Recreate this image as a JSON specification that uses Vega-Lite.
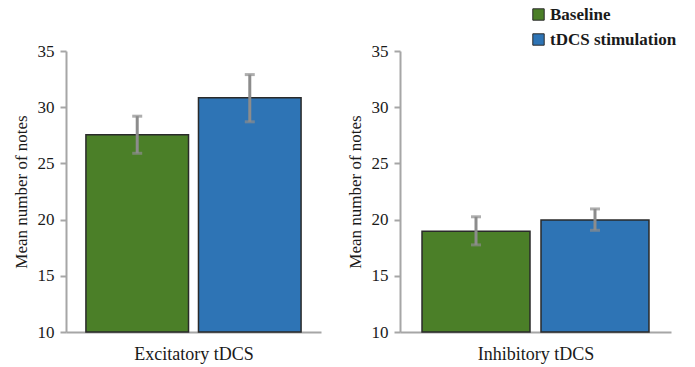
{
  "$schema": "https://vega.github.io/schema/vega-lite/v6.json",
  "background": "white",
  "padding": {"left": 12, "top": 6, "right": 5, "bottom": 5},
  "spacing": 25,
  "config": {
    "view": {"stroke": null},
    "font": "Liberation Serif",
    "axis": {"labelFont": "Liberation Serif", "titleFont": "Liberation Serif", "labelColor": "#1a1a1a", "titleColor": "#1a1a1a", "titleFontWeight": "normal", "grid": false}
  },
  "datasets": {
    "d": [
      {"panel": "Excitatory tDCS", "condition": "Baseline", "mean": 27.55, "lo": 25.9, "hi": 29.2},
      {"panel": "Excitatory tDCS", "condition": "tDCS stimulation", "mean": 30.85, "lo": 28.7, "hi": 32.9},
      {"panel": "Inhibitory tDCS", "condition": "Baseline", "mean": 18.97, "lo": 17.75, "hi": 20.25},
      {"panel": "Inhibitory tDCS", "condition": "tDCS stimulation", "mean": 19.97, "lo": 19.05, "hi": 20.95}
    ]
  },
  "resolve": {"legend": {"color": "independent"}},
  "hconcat": [
    {
      "width": 255,
      "height": 281,
      "data": {"name": "d"},
      "transform": [{"filter": "datum.panel == 'Excitatory tDCS'"}],
      "encoding": {
        "x": {"field": "condition", "type": "nominal", "sort": ["Baseline", "tDCS stimulation"],
          "scale": {"paddingInner": 0.0885, "paddingOuter": 0.177},
          "axis": {"title": "Excitatory tDCS", "labels": false, "ticks": false, "domainColor": "#a6a6a6", "domainWidth": 2, "titleFont": "Liberation Serif", "titleFontSize": 18, "titlePadding": 13}}
      },
      "layer": [
        {
          "mark": {"type": "bar", "stroke": "#2a2a2a", "strokeWidth": 1.5},
          "encoding": {
            "y": {"field": "mean", "type": "quantitative", "scale": {"domain": [10, 35], "zero": false, "nice": false},
              "axis": {"title": "Mean number of notes", "values": [10, 15, 20, 25, 30, 35], "domainColor": "#a6a6a6", "domainWidth": 2, "tickColor": "#a6a6a6", "tickWidth": 2, "tickSize": 6, "labelFont": "Liberation Serif", "labelFontSize": 17, "labelPadding": 6, "titleFont": "Liberation Serif", "titleFontSize": 17, "titlePadding": 7}},
            "y2": {"datum": 10},
            "color": {"field": "condition", "type": "nominal", "scale": {"domain": ["Baseline", "tDCS stimulation"], "range": ["#4b7f28", "#2e74b5"]}, "legend": null}
          }
        },
        {
          "mark": {"type": "errorbar", "ticks": {"size": 10, "thickness": 3, "color": "#8c8c8c"}, "rule": {"strokeWidth": 3, "color": "#8c8c8c"}},
          "encoding": {
            "y": {"field": "lo", "type": "quantitative", "title": "Mean number of notes"},
            "y2": {"field": "hi"}
          }
        }
      ]
    },
    {
      "width": 271,
      "height": 281,
      "data": {"name": "d"},
      "transform": [{"filter": "datum.panel == 'Inhibitory tDCS'"}],
      "encoding": {
        "x": {"field": "condition", "type": "nominal", "sort": ["Baseline", "tDCS stimulation"],
          "scale": {"paddingInner": 0.0924, "paddingOuter": 0.185},
          "axis": {"title": "Inhibitory tDCS", "labels": false, "ticks": false, "domainColor": "#a6a6a6", "domainWidth": 2, "titleFont": "Liberation Serif", "titleFontSize": 18, "titlePadding": 13}}
      },
      "layer": [
        {
          "mark": {"type": "bar", "stroke": "#2a2a2a", "strokeWidth": 1.5},
          "encoding": {
            "y": {"field": "mean", "type": "quantitative", "scale": {"domain": [10, 35], "zero": false, "nice": false},
              "axis": {"title": "Mean number of notes", "values": [10, 15, 20, 25, 30, 35], "domainColor": "#a6a6a6", "domainWidth": 2, "tickColor": "#a6a6a6", "tickWidth": 2, "tickSize": 6, "labelFont": "Liberation Serif", "labelFontSize": 17, "labelPadding": 6, "titleFont": "Liberation Serif", "titleFontSize": 17, "titlePadding": 7}},
            "y2": {"datum": 10},
            "color": {"field": "condition", "type": "nominal", "scale": {"domain": ["Baseline", "tDCS stimulation"], "range": ["#4b7f28", "#2e74b5"]},
              "legend": {"title": null, "orient": "none", "legendX": 130, "legendY": -45, "symbolType": "square", "symbolSize": 130, "symbolStrokeColor": "#2a2a2a", "symbolStrokeWidth": 1, "labelFont": "Liberation Serif", "labelFontWeight": "bold", "labelFontSize": 17, "labelColor": "#1a1a1a", "labelOffset": 3, "rowPadding": 7}}
          }
        },
        {
          "mark": {"type": "errorbar", "ticks": {"size": 10, "thickness": 3, "color": "#8c8c8c"}, "rule": {"strokeWidth": 3, "color": "#8c8c8c"}},
          "encoding": {
            "y": {"field": "lo", "type": "quantitative", "title": "Mean number of notes"},
            "y2": {"field": "hi"}
          }
        }
      ]
    }
  ]
}
